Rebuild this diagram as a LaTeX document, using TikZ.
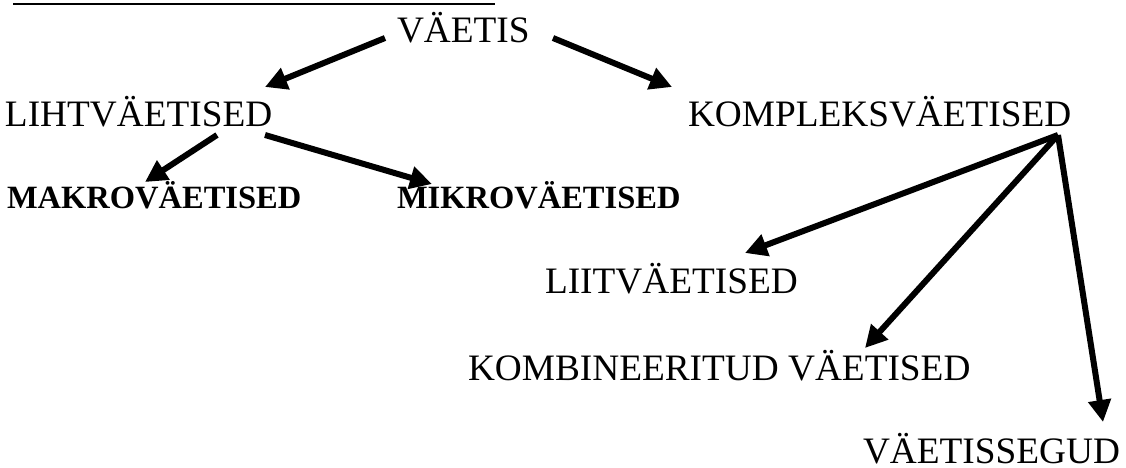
\documentclass[tikz,border=0pt]{standalone}
\usepackage{fontspec}
\setmainfont{Liberation Serif}
\usetikzlibrary{arrows.meta,calc}
\tikzset{
  lbl/.style={inner sep=0pt,outer sep=0pt,anchor=base west,font=\fontsize{37.3pt}{40pt}\selectfont},
  blbl/.style={inner sep=0pt,outer sep=0pt,anchor=base west,font=\fontsize{32.5pt}{35pt}\selectfont\bfseries},
  arr/.style={line width=6pt,-{Triangle[length=22pt,width=22pt]}}
}
\begin{document}
\begin{tikzpicture}[x=1pt,y=-1pt]
\path[use as bounding box,fill=white] (0,0) rectangle (1126,468);
\draw[line width=1.6pt] (13,4) -- (495,4);
\node[lbl] (v) at (397,43) {VÄETIS};
\node[lbl] (l) at (5,127) {LIHTVÄETISED};
\node[lbl] (k) at (688,127) {KOMPLEKSVÄETISED};
\node[blbl] (ma) at (7,208) {MAKROVÄETISED};
\node[blbl] (mi) at (397,208) {MIKROVÄETISED};
\node[lbl] (li) at (545,293) {LIITVÄETISED};
\node[lbl] (ko) at (468,380) {KOMBINEERITUD VÄETISED};
\node[lbl] (vs) at (863,463) {VÄETISSEGUD};
\draw[arr] ($(v.base west)+(-12,-5)$) -- ($(l.base west)+(260,-40)$);
\draw[arr] ($(v.base west)+(156,-5)$) -- ($(k.base west)+(-16,-40)$);
\draw[arr] ($(l.base west)+(212,8)$) -- ($(ma.base west)+(138,-26)$);
\draw[arr] ($(l.base west)+(260,8)$) -- ($(mi.base west)+(35,-24)$);
\draw[arr] ($(k.base west)+(370,8)$) -- ($(li.base west)+(200,-40)$);
\draw[arr] ($(k.base west)+(370,8)$) -- ($(ko.base west)+(397,-32)$);
\draw[arr] ($(k.base west)+(370,8)$) -- ($(vs.base west)+(240,-41)$);
\end{tikzpicture}
\end{document}
